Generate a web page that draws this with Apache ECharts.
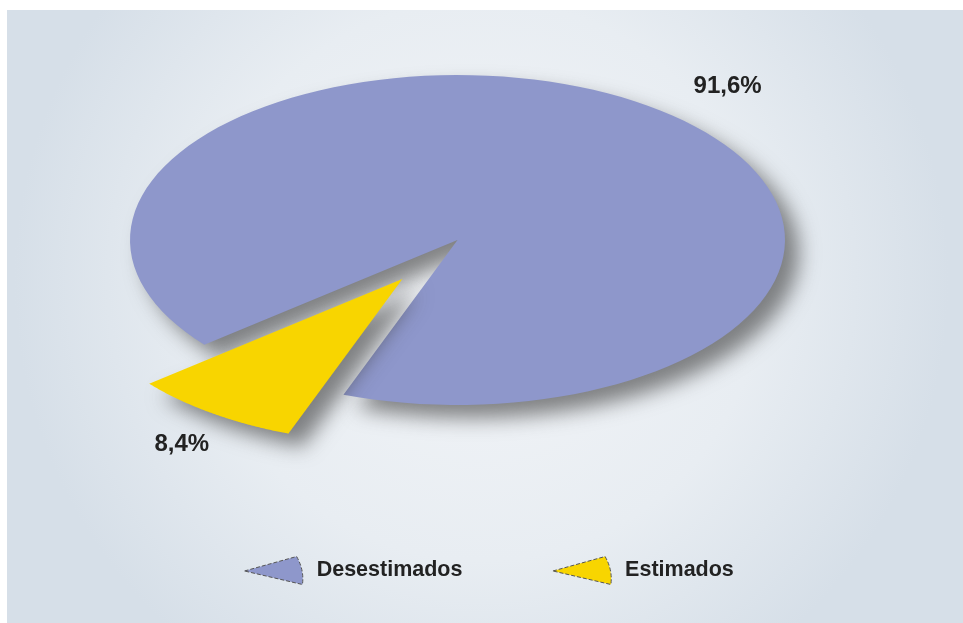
<!DOCTYPE html>
<html>
<head>
<meta charset="utf-8">
<script src="https://cdn.jsdelivr.net/npm/echarts@6/dist/echarts.min.js"></script>
<style>
  html, body { margin: 0; padding: 0; background: #ffffff; }
  #chart { width: 963px; height: 623px; }
</style>
</head>
<body>
<div id="chart"></div>
<script>
// Share of cases, in percent
const categories = ['Desestimados', 'Estimados'];
const shares = [91.6, 8.4];
const sliceColors = ['#8e97cb', '#f8d500'];

const total = shares.reduce((a, b) => a + b, 0);
// Estimados is centred on this screen angle (degrees, clockwise from +x)
const smallSliceMid = 125.5;
const explodeDist = [0, 0.29];
// label placement factors (radial, per axis) for each slice
const labelFactor = [[1.42, 1.14], [1.16, 1.23]];

function sliceAngles(i) {
  const span = shares[1] / total * 360;
  const s1 = smallSliceMid - span / 2;
  const e1 = smallSliceMid + span / 2;
  if (i === 1) return [s1, e1];
  return [e1, s1 + 360];
}

function fmt(v) { return v.toFixed(1).replace('.', ',') + '%'; }

function makeRender(i) {
  return function (params, api) {
    const [a0, a1] = sliceAngles(i);
    const mid = (a0 + a1) / 2 * Math.PI / 180;
    const ox = Math.cos(mid) * explodeDist[i];
    const oy = -Math.sin(mid) * explodeDist[i];
    const pts = [api.coord([ox, oy])];
    const steps = 120;
    for (let k = 0; k <= steps; k++) {
      const a = (a0 + (a1 - a0) * k / steps) * Math.PI / 180;
      pts.push(api.coord([ox + Math.cos(a), oy - Math.sin(a)]));
    }
    const lp = api.coord([ox + Math.cos(mid) * labelFactor[i][0],
                          oy - Math.sin(mid) * labelFactor[i][1]]);
    return {
      type: 'group',
      children: [
        {
          type: 'polygon',
          shape: { points: pts },
          style: {
            fill: sliceColors[i],
            shadowBlur: 20,
            shadowColor: 'rgba(55,55,55,0.6)',
            shadowOffsetX: 14,
            shadowOffsetY: 13
          }
        },
        {
          type: 'text',
          x: lp[0], y: lp[1],
          style: {
            text: fmt(api.value(0)),
            fill: '#222',
            font: 'bold 24px "Liberation Sans", Arial, sans-serif',
            align: 'center',
            verticalAlign: 'middle'
          }
        }
      ]
    };
  };
}

const chart = echarts.init(document.getElementById('chart'));
chart.setOption({
  backgroundColor: {
    type: 'radial', x: 0.5, y: 0.45, r: 0.75,
    colorStops: [
      { offset: 0, color: '#f3f5f8' },
      { offset: 0.6, color: '#e8edf2' },
      { offset: 1, color: '#d6dfe8' }
    ]
  },
  graphic: [
    { type: 'rect', shape: { x: 0, y: 0, width: 963, height: 10 }, style: { fill: '#fff' } },
    { type: 'rect', shape: { x: 0, y: 0, width: 7, height: 623 }, style: { fill: '#fff' } }
  ],
  animation: false,
  grid: { left: 130, right: 178, top: 75, bottom: 218 },
  xAxis: { type: 'value', min: -1, max: 1, show: false },
  yAxis: { type: 'value', min: -1, max: 1, show: false },
  legend: {
    left: 239, top: 551,
    itemWidth: 62, itemHeight: 28, itemGap: 90,
    data: categories,
    icon: 'path://M0,15 L54,0 Q62,14 60,29 Z',
    textStyle: {
      fontFamily: '"Liberation Sans", Arial, sans-serif',
      fontWeight: 'bold', fontSize: 21.5, color: '#222',
      padding: [0, 0, 0, 7]
    },
    itemStyle: { borderColor: '#555', borderWidth: 1, borderType: 'dashed' }
  },
  series: categories.map((name, i) => ({
    type: 'custom',
    name: name,
    coordinateSystem: 'cartesian2d',
    clip: false,
    itemStyle: { color: sliceColors[i] },
    data: [[shares[i]]],
    renderItem: makeRender(i)
  }))
});
</script>
</body>
</html>
